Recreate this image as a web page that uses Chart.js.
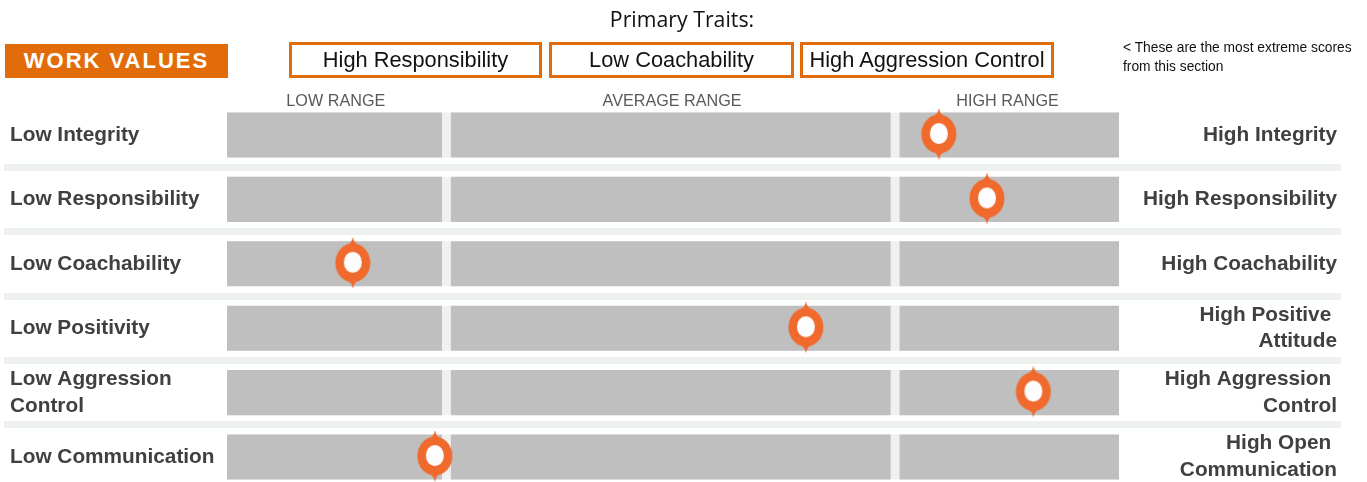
<!DOCTYPE html>
<html>
<head>
<meta charset="utf-8">
<script src="https://cdn.jsdelivr.net/npm/chart.js@4.4.1/dist/chart.umd.min.js"></script>
<style>
  html, body { margin: 0; padding: 0; background: #ffffff; overflow: hidden; }
  #wrap { position: relative; width: 1367px; height: 482px; }
  #c { position: absolute; left: 0; top: 0; }
  #title { position: absolute; left: 482px; width: 400px; top: 4px; text-align: center;
           font-family: "Open Sans", sans-serif; font-size: 21.3px; color: #111; line-height: 30px; }
  #section { position: absolute; left: 5px; top: 44px; width: 223px; height: 34px; background: #e36c0a;
             color: #fff; font-family: "Liberation Sans", Arial, sans-serif; font-weight: bold; font-size: 22px;
             letter-spacing: 2px; text-align: center; line-height: 34px; }
  .trait { position: absolute; top: 42px; height: 36px; box-sizing: border-box; border: 3px solid #e36c0a;
           font-family: "Liberation Sans", Arial, sans-serif; font-size: 21.8px; color: #111;
           text-align: center; line-height: 30px; }
  #note { position: absolute; left: 1123px; top: 39px; width: 244px; font-family: "Liberation Sans", Arial, sans-serif;
          font-size: 13.8px; line-height: 18.5px; color: #111; white-space: pre; }
</style>
</head>
<body>
<div id="wrap">
  <canvas id="c" width="1367" height="482"></canvas>
  <div id="title"></div>
  <div id="section"></div>
  <div id="note"></div>
</div>
<script>
// ---------------- data ----------------
const sectionTitle = 'WORK VALUES';
const headerTitle = 'Primary Traits:';
const primaryTraits = ['High Responsibility', 'Low Coachability', 'High Aggression Control'];
const noteText = '< These are the most extreme scores\nfrom this section';

const leftLabels = ['Low Integrity', 'Low Responsibility', 'Low Coachability', 'Low Positivity',
                    ['Low Aggression', 'Control'], 'Low Communication'];
const rightLabels = ['High Integrity', 'High Responsibility', 'High Coachability',
                     ['High Positive ', 'Attitude'], ['High Aggression ', 'Control'],
                     ['High Open ', 'Communication']];
const scores = [79.8, 85.2, 14.1, 64.9, 90.4, 23.3];

const rangeLabels = ['LOW RANGE', 'AVERAGE RANGE', 'HIGH RANGE'];
const rangeLabelPos = [12.2, 49.9, 87.5];
const lowRange = [0, 24.1];
const avgRange = [25.1, 74.4];
const highRange = [75.4, 100];
const fullTrack = [0, 100];

// ---------------- header (real text) ----------------
document.getElementById('title').textContent = headerTitle;
document.getElementById('section').textContent = sectionTitle;
document.getElementById('note').textContent = noteText;
const traitBoxes = [[289, 253], [549, 245], [800, 254]];
primaryTraits.forEach((t, i) => {
  const d = document.createElement('div');
  d.className = 'trait';
  d.style.left = traitBoxes[i][0] + 'px';
  d.style.width = traitBoxes[i][1] + 'px';
  d.textContent = t;
  document.getElementById('wrap').appendChild(d);
});

// ---------------- marker image ----------------
function makeMarker() {
  const cv = document.createElement('canvas');
  cv.width = 40; cv.height = 60;
  const g = cv.getContext('2d');
  const cx = 20, cy = 29;
  g.fillStyle = '#f16a2d';
  g.beginPath();
  g.ellipse(cx, cy, 17.5, 19.5, 0, 0, Math.PI * 2);
  g.fill();
  g.beginPath();
  g.moveTo(cx - 6, cy - 17);
  g.quadraticCurveTo(cx - 1, cy - 20, cx, cy - 26);
  g.quadraticCurveTo(cx + 1, cy - 20, cx + 6, cy - 17);
  g.closePath();
  g.fill();
  g.beginPath();
  g.moveTo(cx - 6, cy + 17);
  g.quadraticCurveTo(cx - 1, cy + 20, cx, cy + 26);
  g.quadraticCurveTo(cx + 1, cy + 20, cx + 6, cy + 17);
  g.closePath();
  g.fill();
  g.fillStyle = '#fdfdfd';
  g.beginPath();
  g.ellipse(cx, cy - 0.5, 9, 10.5, 0, 0, Math.PI * 2);
  g.fill();
  return cv;
}
const markerImg = makeMarker();

// ---------------- chart ----------------
const rows = leftLabels.map((_, i) => i);
const barDs = (range, color, order) => ({
  type: 'bar',
  data: rows.map(i => ({ x: range, y: i })),
  backgroundColor: color,
  borderWidth: 0,
  grouped: false,
  barPercentage: 0.7,
  categoryPercentage: 1,
  order: order
});

const separatorPlugin = {
  id: 'separators',
  beforeDatasetsDraw(chart) {
    const y = chart.scales.y;
    const ctx = chart.ctx;
    ctx.save();
    ctx.fillStyle = '#eef2ef';
    for (let i = 0; i < rows.length - 1; i++) {
      const py = y.getPixelForValue(i + 0.5);
      ctx.fillRect(4, Math.round(py - 3.5), 1337, 7);
    }
    ctx.restore();
  }
};

const noPad = s => { s.paddingTop = 0; s.paddingBottom = 0; s.paddingLeft = 0; s.paddingRight = 0; };
const labelFont = { family: '"Liberation Sans", Arial, sans-serif', size: 20.8, weight: 'bold', lineHeight: 1.28 };
const yCommon = {
  type: 'linear', reverse: true, min: -0.3882, max: 5.388, offset: false, grace: 0, bounds: 'data',
  grid: { display: false, drawTicks: false, offset: false }, border: { display: false },
  afterBuildTicks: s => { s.ticks = rows.map(v => ({ value: v })); }
};

new Chart(document.getElementById('c'), {
  type: 'bar',
  data: {
    datasets: [
      {
        type: 'scatter',
        data: rows.map(i => ({ x: scores[i], y: i })),
        pointStyle: markerImg,
        pointRadius: 20,
        clip: false,
        order: 0
      },
      barDs(lowRange, '#bfbfbf', 1),
      barDs(avgRange, '#bfbfbf', 1),
      barDs(highRange, '#bfbfbf', 1),
      barDs(fullTrack, '#eef2ef', 2)
    ]
  },
  options: {
    indexAxis: 'y',
    responsive: false,
    animation: false,
    devicePixelRatio: 1,
    layout: { autoPadding: false, padding: { left: 10, right: 30, top: 80, bottom: 0 } },
    plugins: { legend: { display: false }, tooltip: { enabled: false } },
    scales: {
      x: {
        type: 'linear', position: 'top', min: 0, max: 100, offset: false,
        grid: { display: false, drawTicks: false }, border: { display: false },
        afterFit: s => { s.height = 30; noPad(s); },
        afterBuildTicks: s => { s.ticks = rangeLabelPos.map(v => ({ value: v })); },
        ticks: {
          autoSkip: false, maxRotation: 0, padding: 0, color: '#595959',
          font: { family: '"Liberation Sans", Arial, sans-serif', size: 16.2, lineHeight: 1.0 },
          callback: (v, i) => rangeLabels[i]
        }
      },
      y: Object.assign({}, yCommon, {
        position: 'left',
        afterFit: s => { s.width = 217; noPad(s); },
        ticks: { autoSkip: false, crossAlign: 'far', padding: 0, color: '#404040', font: labelFont,
                 callback: (v, i) => leftLabels[i] }
      }),
      y2: Object.assign({}, yCommon, {
        position: 'right',
        afterFit: s => { s.width = 218; noPad(s); },
        ticks: { autoSkip: false, crossAlign: 'far', padding: 0, color: '#404040', font: labelFont,
                 callback: (v, i) => rightLabels[i] }
      })
    }
  },
  plugins: [separatorPlugin]
});
</script>
</body>
</html>
